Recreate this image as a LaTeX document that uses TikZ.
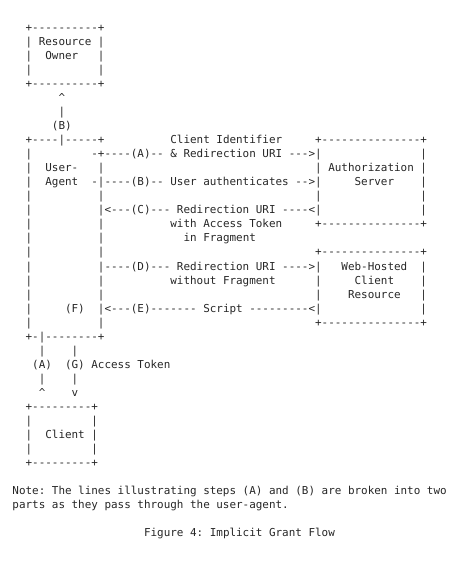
\documentclass[tikz,border=0pt]{standalone}
\usepackage{fontspec}
\setmonofont{DejaVu Sans Mono}
\definecolor{ink}{HTML}{262626}
\tikzset{ascii/.style={anchor=base west, inner sep=0pt, outer sep=0pt,
    text=ink, font=\fontsize{10.93}{14.03}\selectfont}}

\begin{document}
\begin{tikzpicture}[x=1pt, y=1pt]
        \pgfmathsetmacro\width{6.58};
        \pgfmathsetmacro\height{14.03};
        \pgfmathsetmacro\xo{-7.3};
        \pgfmathsetmacro\yo{529.5};
        \useasboundingbox (0, 0) rectangle (461, 561);

        % Resource Owner
        \node[ascii] (owner0) at (\xo + 5 * \width, \yo)
            {\verb'+----------+'};
        \node[ascii] (owner1) at (\xo + 5 * \width, \yo - 1 * \height)
            {\verb'| Resource |'};
        \node[ascii] (owner2) at (\xo + 5 * \width, \yo - 2 * \height)
            {\verb'|  Owner   |'};
        \node[ascii] (owner3) at (\xo + 5 * \width, \yo - 3 * \height)
            {\verb'|          |'};
        \node[ascii] (owner4) at (\xo + 5 * \width, \yo - 4 * \height)
            {\verb'+----------+'};
        \node[ascii] (stepB0) at (\xo + 10 * \width, \yo - 5 * \height)
            {\verb'^'};
        \node[ascii] (stepB1) at (\xo + 10 * \width, \yo - 6 * \height)
            {\verb'|'};
        \node[ascii] (stepB2) at (\xo + 9 * \width, \yo - 7 * \height)
            {\verb'(B)'};

        % User-Agent, Authorization Server and Web-Hosted Client Resource
        \node[ascii] (agent0) at (\xo + 5 * \width, \yo - 8 * \height)
            {\verb'+----|-----+          Client Identifier     +---------------+'};
        \node[ascii] (agent1) at (\xo + 5 * \width, \yo - 9 * \height)
            {\verb'|         -+----(A)-- & Redirection URI --->|               |'};
        \node[ascii] (agent2) at (\xo + 5 * \width, \yo - 10 * \height)
            {\verb'|  User-   |                                | Authorization |'};
        \node[ascii] (agent3) at (\xo + 5 * \width, \yo - 11 * \height)
            {\verb'|  Agent  -|----(B)-- User authenticates -->|     Server    |'};
        \node[ascii] (agent4) at (\xo + 5 * \width, \yo - 12 * \height)
            {\verb'|          |                                |               |'};
        \node[ascii] (agent5) at (\xo + 5 * \width, \yo - 13 * \height)
            {\verb'|          |<---(C)--- Redirection URI ----<|               |'};
        \node[ascii] (agent6) at (\xo + 5 * \width, \yo - 14 * \height)
            {\verb'|          |          with Access Token     +---------------+'};
        \node[ascii] (agent7) at (\xo + 5 * \width, \yo - 15 * \height)
            {\verb'|          |            in Fragment'};
        \node[ascii] (agent8) at (\xo + 5 * \width, \yo - 16 * \height)
            {\verb'|          |                                +---------------+'};
        \node[ascii] (agent9) at (\xo + 5 * \width, \yo - 17 * \height)
            {\verb'|          |----(D)--- Redirection URI ---->|   Web-Hosted  |'};
        \node[ascii] (agent10) at (\xo + 5 * \width, \yo - 18 * \height)
            {\verb'|          |          without Fragment      |     Client    |'};
        \node[ascii] (agent11) at (\xo + 5 * \width, \yo - 19 * \height)
            {\verb'|          |                                |    Resource   |'};
        \node[ascii] (agent12) at (\xo + 5 * \width, \yo - 20 * \height)
            {\verb'|     (F)  |<---(E)------- Script ---------<|               |'};
        \node[ascii] (agent13) at (\xo + 5 * \width, \yo - 21 * \height)
            {\verb'|          |                                +---------------+'};
        \node[ascii] (agent14) at (\xo + 5 * \width, \yo - 22 * \height)
            {\verb'+-|--------+'};

        % steps (A) and (G)
        \node[ascii] (stepG0) at (\xo + 7 * \width, \yo - 23 * \height)
            {\verb'|    |'};
        \node[ascii] (stepG1) at (\xo + 6 * \width, \yo - 24 * \height)
            {\verb'(A)  (G) Access Token'};
        \node[ascii] (stepG2) at (\xo + 7 * \width, \yo - 25 * \height)
            {\verb'|    |'};
        \node[ascii] (stepG3) at (\xo + 7 * \width, \yo - 26 * \height)
            {\verb'^    v'};

        % Client
        \node[ascii] (client0) at (\xo + 5 * \width, \yo - 27 * \height)
            {\verb'+---------+'};
        \node[ascii] (client1) at (\xo + 5 * \width, \yo - 28 * \height)
            {\verb'|         |'};
        \node[ascii] (client2) at (\xo + 5 * \width, \yo - 29 * \height)
            {\verb'|  Client |'};
        \node[ascii] (client3) at (\xo + 5 * \width, \yo - 30 * \height)
            {\verb'|         |'};
        \node[ascii] (client4) at (\xo + 5 * \width, \yo - 31 * \height)
            {\verb'+---------+'};

        % note and caption
        \node[ascii] (note0) at (\xo + 3 * \width, \yo - 33 * \height)
            {\verb'Note: The lines illustrating steps (A) and (B) are broken into two'};
        \node[ascii] (note1) at (\xo + 3 * \width, \yo - 34 * \height)
            {\verb'parts as they pass through the user-agent.'};
        \node[ascii] (caption) at (\xo + 23 * \width, \yo - 36 * \height)
            {\verb'Figure 4: Implicit Grant Flow'};
    \end{tikzpicture}
\end{document}
